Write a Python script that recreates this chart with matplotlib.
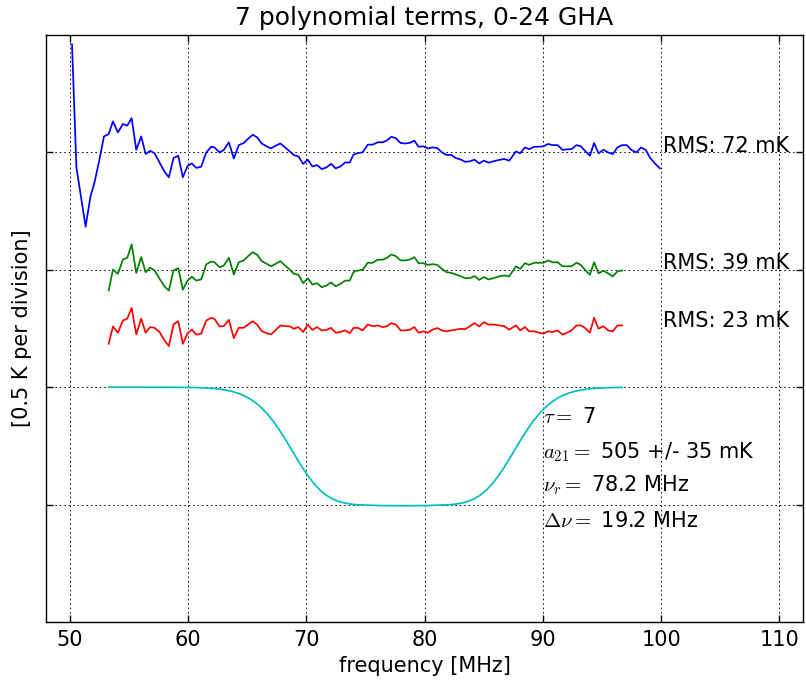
import matplotlib
matplotlib.use("Agg")
import matplotlib.pyplot as plt
import numpy as np

# ---------------- data ----------------
title = "7 polynomial terms, 0-24 GHA"
xlabel = "frequency [MHz]"
ylabel = "[0.5 K per division]"
xticks = [50, 60, 70, 80, 90, 100, 110]
division_lines = [-0.5, -1.0, -1.5, -2.0]

# residuals, in K, relative to each trace's own baseline
blue_freq = [50.2, 50.57, 51.35, 51.75, 52.1, 52.5, 52.9, 53.3, 53.66, 54.08, 54.5, 54.87,
             55.24, 55.63, 56.05, 56.42, 56.81, 57.18, 57.6, 58.02, 58.39, 58.78, 59.18,
             59.57, 59.97, 60.33, 60.7, 61.12, 61.55, 61.97, 62.25, 62.67, 63.03, 63.46,
             63.88, 64.3, 64.72, 65.06, 65.48, 65.85, 66.24, 66.64, 67.03, 67.43, 67.82,
             68.22, 68.61, 68.95, 69.34, 69.74, 70.13, 70.52, 70.92, 71.31, 71.71, 72.1,
             72.49, 72.89, 73.28, 73.68, 73.99, 74.35, 74.77, 75.2, 75.62, 76.04, 76.46,
             76.8, 77.2, 77.59, 77.98, 78.38, 78.77, 79.14, 79.5, 79.9, 80.29, 80.68,
             81.08, 81.47, 81.86, 82.26, 82.65, 83.05, 83.44, 83.84, 84.23, 84.63, 85.02,
             85.41, 85.81, 86.32, 86.74, 87.16, 87.73, 88.09, 88.49, 88.85, 89.27, 89.7,
             90.06, 90.46, 90.82, 91.25, 91.67, 92.04, 92.43, 92.85, 93.22, 93.56, 93.98,
             94.34, 94.71, 95.13, 95.52, 95.92, 96.31, 96.71, 97.1, 97.5, 97.92, 98.3,
             98.72, 99.08, 99.48, 99.9]
blue_res = [0.46, -0.064, -0.316, -0.19, -0.128, -0.035, 0.068, 0.078, 0.132, 0.085, 0.121,
            0.114, 0.146, 0.011, 0.068, -0.007, 0.007, -0.004, -0.043, -0.082, -0.106,
            -0.024, -0.014, -0.106, -0.057, -0.047, -0.066, -0.061, 0.0, 0.024, 0.021, 0.0,
            0.01, 0.043, -0.026, 0.031, 0.04, 0.057, 0.075, 0.064, 0.038, 0.026, 0.017,
            0.029, 0.038, 0.021, 0.004, -0.011, -0.017, -0.049, -0.031, -0.06, -0.054,
            -0.071, -0.064, -0.049, -0.068, -0.06, -0.043, -0.043, -0.01, -0.003, 0.0,
            0.033, 0.033, 0.043, 0.043, 0.05, 0.067, 0.06, 0.04, 0.038, 0.041, 0.05, 0.024,
            0.026, 0.017, 0.021, 0.019, 0.0, -0.011, -0.011, -0.024, -0.03, -0.04, -0.038,
            -0.031, -0.047, -0.035, -0.044, -0.038, -0.032, -0.028, -0.035, 0.004, -0.004,
            0.021, 0.014, 0.024, 0.024, 0.026, 0.036, 0.031, 0.031, 0.011, 0.013, 0.014,
            0.031, 0.026, 0.007, -0.014, 0.04, -0.004, 0.011, 0.0, -0.007, 0.021, 0.031,
            0.031, 0.01, 0.0, 0.021, 0.01, -0.024, -0.047, -0.068]

green_freq = [53.3, 53.66, 54.08, 54.5, 54.87, 55.24, 55.63, 56.05, 56.42, 56.81, 57.18,
              57.6, 58.02, 58.39, 58.78, 59.18, 59.57, 59.97, 60.33, 60.7, 61.12, 61.55,
              61.97, 62.25, 62.67, 63.03, 63.46, 63.88, 64.3, 64.72, 65.06, 65.48, 65.85,
              66.24, 66.64, 67.03, 67.43, 67.82, 68.22, 68.61, 68.95, 69.34, 69.74, 70.13,
              70.52, 70.92, 71.31, 71.71, 72.1, 72.49, 72.89, 73.28, 73.68, 73.99, 74.35,
              74.77, 75.2, 75.62, 76.04, 76.46, 76.8, 77.2, 77.59, 77.98, 78.38, 78.77,
              79.14, 79.5, 79.9, 80.29, 80.68, 81.08, 81.47, 81.86, 82.26, 82.65, 83.05,
              83.44, 83.84, 84.23, 84.63, 85.02, 85.41, 85.81, 86.32, 86.74, 87.16, 87.73,
              88.09, 88.49, 88.85, 89.27, 89.7, 90.06, 90.46, 90.82, 91.25, 91.67, 92.04,
              92.43, 92.85, 93.22, 93.56, 93.98, 94.34, 94.71, 95.13, 95.52, 95.92, 96.31,
              96.71]
green_res = [-0.088, 0.001, -0.017, 0.044, 0.051, 0.108, -0.013, 0.054, -0.01, 0.009, -0.003,
             -0.038, -0.071, -0.088, -0.003, 0.007, -0.085, -0.046, -0.029, -0.046, -0.041,
             0.023, 0.035, 0.032, 0.011, 0.018, 0.051, -0.02, 0.032, 0.04, 0.057, 0.075,
             0.064, 0.037, 0.026, 0.015, 0.026, 0.037, 0.018, 0.001, -0.017, -0.021, -0.057,
             -0.036, -0.063, -0.057, -0.074, -0.067, -0.054, -0.07, -0.06, -0.046, -0.046,
             -0.01, -0.003, 0.0, 0.03, 0.03, 0.043, 0.043, 0.05, 0.065, 0.058, 0.04, 0.04,
             0.044, 0.054, 0.028, 0.028, 0.021, 0.024, 0.021, 0.004, -0.01, -0.013, -0.02,
             -0.027, -0.036, -0.035, -0.027, -0.043, -0.031, -0.041, -0.036, -0.028, -0.024,
             -0.028, 0.015, 0.004, 0.028, 0.021, 0.03, 0.03, 0.03, 0.04, 0.032, 0.032, 0.015,
             0.015, 0.015, 0.03, 0.021, 0.0, -0.021, 0.032, -0.015, -0.004, -0.015, -0.028,
             -0.007, -0.003]

red_freq = green_freq
red_res = [-0.065, 0.009, -0.018, 0.034, 0.042, 0.088, -0.025, 0.042, -0.018, 0.006, 0.003,
           -0.015, -0.051, -0.075, 0.017, 0.031, -0.065, -0.02, -0.005, -0.026, -0.022,
           0.034, 0.046, 0.04, 0.009, 0.01, 0.037, -0.041, 0.003, 0.003, 0.016, 0.031,
           0.016, -0.011, -0.02, -0.025, -0.006, 0.013, 0.01, 0.009, -0.001, 0.006, -0.015,
           0.017, -0.006, 0.006, -0.008, -0.006, 0.003, -0.018, -0.015, -0.008, -0.02,
           0.002, 0.003, -0.008, 0.017, 0.01, 0.013, 0.006, 0.009, 0.023, 0.016, -0.008,
           -0.008, -0.005, 0.006, -0.018, -0.012, -0.018, -0.005, 0.002, -0.008, -0.012,
           -0.008, -0.005, -0.001, -0.003, 0.01, 0.023, 0.009, 0.027, 0.017, 0.017, 0.013,
           0.01, -0.005, 0.013, -0.008, 0.006, -0.012, -0.012, -0.018, -0.022, -0.012,
           -0.015, -0.008, -0.026, -0.018, -0.008, 0.013, 0.013, 0.003, -0.018, 0.046,
           -0.001, 0.01, -0.008, -0.012, 0.013, 0.013]

# flattened-Gaussian absorption model (depth in K)
model_freq = [53.3, 58.2, 60.2, 61.2, 62.2, 62.7, 63.2, 63.7, 64.2, 64.7, 65.2, 65.7, 66.2,
              66.7, 67.2, 67.7, 68.2, 68.7, 69.2, 69.7, 70.2, 70.7, 71.2, 71.7, 72.2, 72.7,
              73.2, 73.7, 74.2, 76.2, 78.2, 80.2, 82.2, 82.7, 83.2, 83.7, 84.2, 84.7, 85.2,
              85.7, 86.2, 86.7, 87.2, 87.7, 88.2, 88.7, 89.2, 89.7, 90.2, 90.7, 91.2, 91.7,
              92.2, 92.7, 93.2, 93.7, 94.2, 95.2, 96.2, 96.7]
model_depth = [0.0, 0.0002, 0.001, 0.0025, 0.0057, 0.0084, 0.0123, 0.0177, 0.0251, 0.0351,
               0.0483, 0.0653, 0.0869, 0.1129, 0.1439, 0.1798, 0.2192, 0.2606, 0.303,
               0.3439, 0.3808, 0.4131, 0.4399, 0.4601, 0.4752, 0.4858, 0.4929, 0.4974,
               0.5004, 0.504, 0.505, 0.504, 0.5004, 0.4974, 0.4929, 0.4858, 0.4752, 0.4601,
               0.4399, 0.4131, 0.3808, 0.3439, 0.303, 0.2606, 0.2192, 0.1798, 0.1439,
               0.1129, 0.0869, 0.0653, 0.0483, 0.0351, 0.0251, 0.0177, 0.0123, 0.0084,
               0.0057, 0.0025, 0.001, 0.0007]

offsets = {"blue": -0.5, "green": -1.0, "red": -1.25, "model": -1.5}
rms_labels = ["RMS: 72 mK", "RMS: 39 mK", "RMS: 23 mK"]
param_labels = [r"$\tau=$ 7", r"$a_{21}=$ 505 +/- 35 mK",
                r"$\nu_r=$ 78.2 MHz", r"$\Delta\nu=$ 19.2 MHz"]

# ---------------- plot ----------------
plt.rcParams["font.family"] = ["DejaVu Sans"]
plt.rcParams["mathtext.fontset"] = "cm"
plt.rcParams["xtick.direction"] = "in"
plt.rcParams["ytick.direction"] = "in"
plt.rcParams["lines.scale_dashes"] = False

fig = plt.figure(figsize=(8.06, 6.81), dpi=100)
ax = fig.add_axes([46 / 806, 1 - 622 / 681, (803 - 46) / 806, (622 - 35) / 681])

lw = 1.25
ax.plot(blue_freq, np.array(blue_res) + offsets["blue"], color="b", lw=lw)
ax.plot(green_freq, np.array(green_res) + offsets["green"], color="g", lw=lw)
ax.plot(red_freq, np.array(red_res) + offsets["red"], color="r", lw=lw)
ax.plot(model_freq, offsets["model"] - np.array(model_depth), color="c", lw=lw)

fs = 15
rms_y = [-0.474, -0.971, -1.22]
for lab, yy in zip(rms_labels, rms_y):
    ax.text(100.2, yy, lab, fontsize=fs, ha="left", va="center")
par_y = [-1.625, -1.777, -1.918, -2.07]
for lab, yy in zip(param_labels, par_y):
    ax.text(90.0, yy, lab, fontsize=fs, ha="left", va="center")

ax.set_xlim(48, 112)
ax.set_ylim(-2.5, 0)
ax.set_xticks(xticks)
ax.set_yticks(division_lines)
ax.set_yticklabels([])
ax.tick_params(axis="both", which="both", top=True, right=True, length=5,
               width=1, labelsize=fs, color="k", pad=6)
ax.grid(True, color="k", linestyle=(0, (1.1, 2.1)), linewidth=0.7)
for sp in ax.spines.values():
    sp.set_linewidth(1.0)
    sp.set_color("k")

ax.set_title(title, fontsize=18, pad=7)
ax.set_xlabel(xlabel, fontsize=fs, labelpad=4)
ax.set_ylabel(ylabel, fontsize=fs, labelpad=4)

fig.savefig("out.png", dpi=100)
